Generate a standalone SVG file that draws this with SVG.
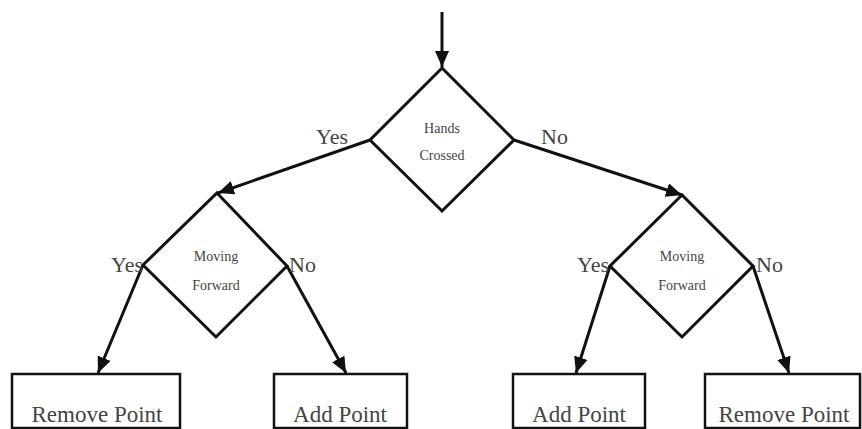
<svg xmlns="http://www.w3.org/2000/svg" width="862" height="429" viewBox="0 0 862 429">
<style>
.ln{stroke:#111;stroke-width:3;fill:none}
.dm{stroke:#111;stroke-width:3;fill:#fff;stroke-linejoin:miter}
.bx{stroke:#111;stroke-width:2.5;fill:#fff}
.t{font-family:"Liberation Serif","Times New Roman",serif;fill:#444}
.lb{font-size:22px}
.sm{font-size:14px;text-anchor:middle}
.bt{font-size:23px;text-anchor:middle}
</style>
<defs>
<marker id="ah" markerUnits="userSpaceOnUse" markerWidth="16" markerHeight="14" refX="16" refY="7" orient="auto">
<path d="M0,0 L16,7 L0,14 Z" fill="#111"/>
</marker>
</defs>
<rect width="862" height="429" fill="#fff"/>
<g id="connectors">
<line class="ln" x1="442" y1="12" x2="442" y2="67" marker-end="url(#ah)"/>
<line class="ln" x1="370" y1="140" x2="218" y2="193" marker-end="url(#ah)"/>
<line class="ln" x1="514" y1="140" x2="682" y2="195" marker-end="url(#ah)"/>
<line class="ln" x1="143" y1="265" x2="98" y2="373" marker-end="url(#ah)"/>
<line class="ln" x1="287" y1="266" x2="346" y2="373" marker-end="url(#ah)"/>
<line class="ln" x1="610" y1="266" x2="576" y2="373" marker-end="url(#ah)"/>
<line class="ln" x1="753" y1="266" x2="789" y2="373" marker-end="url(#ah)"/>
</g>
<g id="hands-crossed">
<polygon class="dm" points="442,68 514,140 442,211 370,140"/>
<text class="t sm" x="442" y="133">Hands</text>
<text class="t sm" x="442" y="160">Crossed</text>
</g>
<g id="moving-forward-left">
<polygon class="dm" points="217,193 287,266 216,337 143,265"/>
<text class="t sm" x="216" y="261">Moving</text>
<text class="t sm" x="216" y="290">Forward</text>
</g>
<g id="moving-forward-right">
<polygon class="dm" points="682,195 753,266 682,337 610,266"/>
<text class="t sm" x="682" y="261">Moving</text>
<text class="t sm" x="682" y="290">Forward</text>
</g>
<g id="labels">
<text class="t lb" x="316" y="144">Yes</text>
<text class="t lb" x="541" y="144">No</text>
<text class="t lb" x="111" y="272">Yes</text>
<text class="t lb" x="289" y="272">No</text>
<text class="t lb" x="577" y="272">Yes</text>
<text class="t lb" x="756" y="272">No</text>
</g>
<g id="remove-point-left">
<rect class="bx" x="12" y="374" width="168" height="54"/>
<text class="t bt" x="97" y="422">Remove Point</text>
</g>
<g id="add-point-left">
<rect class="bx" x="274" y="374" width="133" height="54"/>
<text class="t bt" x="340" y="422">Add Point</text>
</g>
<g id="add-point-right">
<rect class="bx" x="513" y="374" width="132" height="54"/>
<text class="t bt" x="579" y="422">Add Point</text>
</g>
<g id="remove-point-right">
<rect class="bx" x="705" y="374" width="155" height="54"/>
<text class="t bt" x="784" y="422">Remove Point</text>
</g>
</svg>
